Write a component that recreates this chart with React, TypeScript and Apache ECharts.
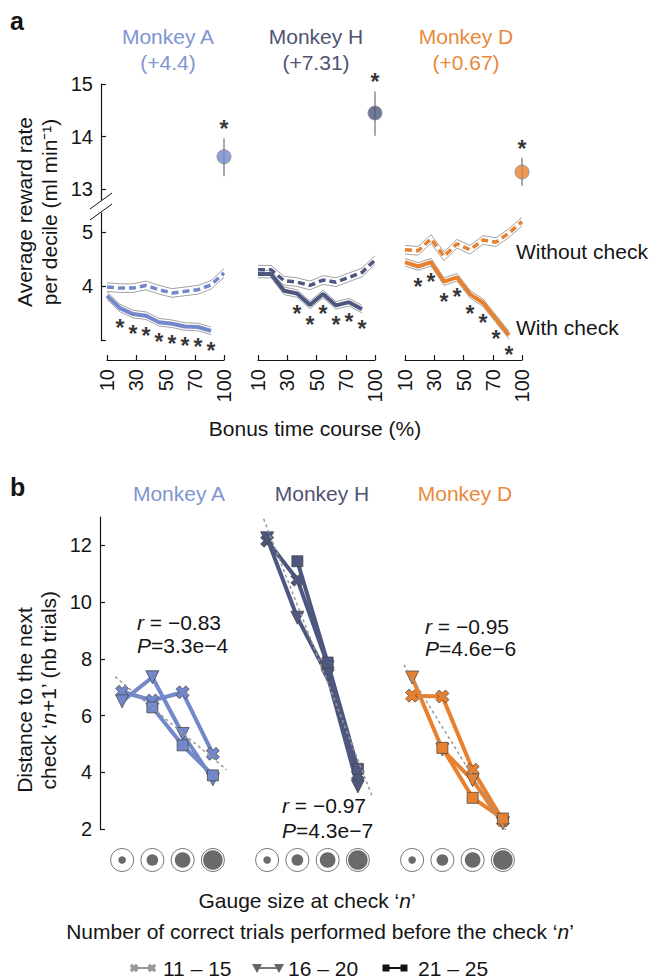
import React, { useEffect, useRef } from 'react';
import * as echarts from 'echarts';

// ---------------- data ----------------
const deciles = [10, 20, 30, 40, 50, 60, 70, 80, 90, 100];
const timeTickLabels = ['10', '30', '50', '70', '100'];
const monkeyNames = ['Monkey A', 'Monkey H', 'Monkey D'];
const bonusGain = ['(+4.4)', '(+7.31)', '(+0.67)'];

// Panel a: average reward rate per decile (ml/min)
const withoutCheckA = [3.98, 3.96, 3.96, 4.01, 3.93, 3.87, 3.9, 3.93, 4.02, 4.24];
const withCheckA = [3.82, 3.59, 3.48, 3.45, 3.33, 3.3, 3.25, 3.24, 3.17];
const withoutCheckH = [4.3, 4.3, 4.1, 4.07, 4.01, 4.11, 4.07, 4.16, 4.25, 4.48];
const withCheckH = [4.22, 4.22, 3.91, 3.86, 3.65, 3.85, 3.64, 3.7, 3.57];
const withoutCheckD = [4.67, 4.65, 4.87, 4.55, 4.78, 4.67, 4.85, 4.81, 4.98, 5.19];
const withCheckD = [4.44, 4.36, 4.44, 4.08, 4.16, 3.85, 3.69, 3.39, 3.09];
const semWithout = [0.08, 0.08, 0.08, 0.08, 0.08, 0.08, 0.08, 0.08, 0.08, 0.08];
const semWith = [0.07, 0.07, 0.07, 0.07, 0.07, 0.07, 0.07, 0.07, 0.07];
const sigDecilesA = [20, 30, 40, 50, 60, 70, 80, 90];
const sigDecilesH = [40, 50, 60, 70, 80, 90];
const sigDecilesD = [20, 30, 40, 50, 60, 70, 80, 90];
const bonusRate = [13.62, 14.45, 13.33];
const bonusLow = [13.25, 14.02, 13.07];
const bonusHigh = [13.97, 14.86, 13.6];
const upperTicks = [13, 14, 15];
const lowerTicks = [3, 4, 5];
const lowerLabels = [4, 5];

// Panel b: distance to next check vs gauge size (null = no data)
const gaugeSizes = [1, 2, 3, 4];
const trialBins = ['11 – 15', '16 – 20', '21 – 25'];
const distA11 = [6.84, 6.53, 6.82, 4.65];
const distA16 = [6.5, 7.35, 5.35, 3.75];
const distA21 = [null, 6.29, 4.95, 3.89];
const distH11 = [12.16, 10.79, 7.8, 3.9];
const distH16 = [12.25, 9.45, 7.4, 3.5];
const distH21 = [null, 11.44, 7.87, 4.12];
const distD11 = [6.7, 6.67, 4.09, 2.3];
const distD16 = [7.34, 4.8, 3.72, 2.2];
const distD21 = [null, 4.86, 3.1, 2.37];
const fitA = [[0.77, 7.37], [4.45, 4.09]];
const fitH = [[0.74, 13.33], [4.46, 3.19]];
const fitD = [[0.73, 7.79], [4.18, 1.82]];
const rValues = ['−0.83', '−0.97', '−0.95'];
const pValues = ['3.3e−4', '4.3e−7', '4.6e−6'];
const distTicks = [2, 4, 6, 8, 10, 12];

// ---------------- style / layout ----------------
const FONT = '"Liberation Sans", Arial, Helvetica, sans-serif';
const INK = '#151515';
const lineColors = ['#7288ca', '#4d577f', '#e8812f'];
const titleColors = ['#8095d1', '#505372', '#e9893b'];
const crossPath = 'path://M0,2.6L2.6,0L5,2.4L7.4,0L10,2.6L7.6,5L10,7.4L7.4,10L5,7.6L2.6,10L0,7.4L2.4,5Z';

const aLeft = [107, 258, 405];
const bLeft = [107, 252, 397];

function txt(x: number, y: number, text: string, opts: any = {}) {
  return {
    type: 'text',
    x,
    y,
    rotation: opts.rotation || 0,
    style: {
      text,
      fill: opts.color || INK,
      fontSize: opts.size || 21,
      fontFamily: FONT,
      fontWeight: opts.weight || 'normal',
      align: opts.align || 'center',
      verticalAlign: 'middle',
      rich: opts.rich,
    },
  };
}

const italicRich = (size: number) => ({
  i: { fontStyle: 'italic', fontSize: size, fontFamily: FONT, fill: INK },
  n: { fontSize: size, fontFamily: FONT, fill: INK },
});

function crossPoints(cx: number, cy: number, s: number) {
  const p = [[0, 2.6], [2.6, 0], [5, 2.4], [7.4, 0], [10, 2.6], [7.6, 5], [10, 7.4], [7.4, 10], [5, 7.6], [2.6, 10], [0, 7.4], [2.4, 5]];
  return p.map(([a, b]) => [cx + (a - 5) * s / 10, cy + (b - 5) * s / 10]);
}

function buildOption() {
  const grid: any[] = [];
  const xAxis: any[] = [];
  const yAxis: any[] = [];
  const series: any[] = [];

  const withoutAll = [withoutCheckA, withoutCheckH, withoutCheckD];
  const withAll = [withCheckA, withCheckH, withCheckD];
  const sigAll = [sigDecilesA, sigDecilesH, sigDecilesD];
  const distAll = [[distA11, distA16, distA21], [distH11, distH16, distH21], [distD11, distD16, distD21]];
  const fitAll = [fitA, fitH, fitD];

  const axisLineStyle = { color: INK, width: 1.2 };
  const labelStyle = { fontSize: 20, color: INK, fontFamily: FONT };
  const starLabel = { show: true, formatter: '*', position: 'inside', fontSize: 23, fontWeight: 'bold', color: '#000', fontFamily: FONT };

  for (let m = 0; m < 3; m++) grid.push({ left: aLeft[m], top: 84, width: 117, height: 116 });
  for (let m = 0; m < 3; m++) grid.push({ left: aLeft[m], top: 213, width: 117, height: 127 });
  for (let m = 0; m < 3; m++) grid.push({ left: bLeft[m], top: 517, width: 121, height: 312 });

  for (let g = 0; g < 6; g++) xAxis.push({ type: 'value', gridIndex: g, min: 10, max: 100, show: false });
  for (let g = 6; g < 9; g++) xAxis.push({ type: 'value', gridIndex: g, min: 0.5, max: 4.5, show: false });
  for (let m = 0; m < 3; m++) {
    xAxis.push({
      type: 'category',
      gridIndex: 3 + m,
      data: timeTickLabels,
      boundaryGap: false,
      position: 'bottom',
      offset: 20,
      axisLine: { show: true, lineStyle: axisLineStyle },
      axisTick: { show: true, inside: true, length: 5, lineStyle: axisLineStyle },
      axisLabel: { ...labelStyle, rotate: 90, margin: 9, interval: 0 },
      splitLine: { show: false },
    });
  }

  for (let m = 0; m < 3; m++) {
    yAxis.push(m === 0
      ? {
        type: 'value', gridIndex: 0, min: 12.8, max: 15, offset: 6,
        axisLine: { show: true, lineStyle: axisLineStyle },
        axisTick: { show: true, inside: true, length: 5, customValues: upperTicks, lineStyle: axisLineStyle },
        axisLabel: { ...labelStyle, margin: 8, customValues: upperTicks },
        splitLine: { show: false },
      }
      : { type: 'value', gridIndex: m, min: 12.8, max: 15, show: false });
  }
  for (let m = 0; m < 3; m++) {
    yAxis.push(m === 0
      ? {
        type: 'value', gridIndex: 3, min: 3, max: 5.35, offset: 6,
        axisLine: { show: true, lineStyle: axisLineStyle },
        axisTick: { show: true, inside: true, length: 5, customValues: lowerTicks, lineStyle: axisLineStyle },
        axisLabel: { ...labelStyle, margin: 8, customValues: lowerLabels },
        splitLine: { show: false },
      }
      : { type: 'value', gridIndex: 3 + m, min: 3, max: 5.35, show: false });
  }
  for (let m = 0; m < 3; m++) {
    yAxis.push(m === 0
      ? {
        type: 'value', gridIndex: 6, min: 2, max: 13, offset: 7,
        axisLine: { show: true, lineStyle: axisLineStyle },
        axisTick: { show: true, inside: true, length: 5, customValues: distTicks, lineStyle: axisLineStyle },
        axisLabel: { ...labelStyle, margin: 8, customValues: distTicks },
        splitLine: { show: false },
      }
      : { type: 'value', gridIndex: 6 + m, min: 2, max: 13, show: false });
  }

  for (let m = 0; m < 3; m++) {
    const color = lineColors[m];
    const wo = withoutAll[m];
    const wc = withAll[m];
    const li = 3 + m;
    const band = (vals: number[], sem: number[], sign: number) => ({
      type: 'line', xAxisIndex: li, yAxisIndex: li, symbol: 'none', z: 1, silent: true,
      lineStyle: { color: '#a3a3a3', width: 1 },
      data: vals.map((v, i) => [deciles[i], v + sign * sem[i]]),
    });
    series.push(band(wo, semWithout, 1), band(wo, semWithout, -1), band(wc, semWith, 1), band(wc, semWith, -1));
    series.push({
      type: 'line', xAxisIndex: li, yAxisIndex: li, symbol: 'none', z: 3,
      lineStyle: { color, width: 3.5, type: [7, 4] },
      data: wo.map((v, i) => [deciles[i], v]),
    });
    series.push({
      type: 'line', xAxisIndex: li, yAxisIndex: li, symbol: 'none', z: 3,
      lineStyle: { color, width: 4 },
      data: wc.map((v, i) => [deciles[i], v]),
    });
    series.push({
      type: 'scatter', xAxisIndex: li, yAxisIndex: li, symbol: 'circle', symbolSize: 1, z: 4,
      itemStyle: { color: 'rgba(0,0,0,0)' },
      label: { ...starLabel, offset: [0, 20] },
      data: sigAll[m].map((d) => [d, wc[deciles.indexOf(d)]]),
    });
    series.push({
      type: 'line', xAxisIndex: m, yAxisIndex: m, symbol: 'none', z: 2,
      lineStyle: { color: '#a8a8a8', width: 2 },
      data: [[100, bonusLow[m]], [100, bonusHigh[m]]],
    });
    series.push({
      type: 'scatter', xAxisIndex: m, yAxisIndex: m, symbol: 'circle', symbolSize: 14, z: 3,
      itemStyle: { color, borderColor: '#8a8a8a', borderWidth: 1 },
      data: [[100, bonusRate[m]]],
    });
    series.push({
      type: 'scatter', xAxisIndex: m, yAxisIndex: m, symbol: 'circle', symbolSize: 1, z: 4,
      itemStyle: { color: 'rgba(0,0,0,0)' },
      label: { ...starLabel, offset: [0, -9] },
      data: [[100, bonusHigh[m]]],
    });

    const bi = 6 + m;
    const symbols = [crossPath, 'triangle', 'rect'];
    const sizes = [13, 13, 11];
    distAll[m].forEach((vals, k) => {
      series.push({
        type: 'line', name: trialBins[k], xAxisIndex: bi, yAxisIndex: bi,
        symbol: symbols[k], symbolSize: sizes[k], symbolRotate: k === 1 ? 180 : 0, showAllSymbol: true, z: 3 + k,
        connectNulls: false,
        lineStyle: { color, width: 4 },
        itemStyle: { color, borderColor: '#4a4a4a', borderWidth: 0.8 },
        data: vals.map((v, i) => [gaugeSizes[i], v === null ? '-' : v]),
      });
    });
    series.push({
      type: 'line', xAxisIndex: bi, yAxisIndex: bi, symbol: 'none', z: 8,
      lineStyle: { color: '#9a9a9a', width: 1.5, type: [3, 3] },
      data: fitAll[m],
    });
  }

  return { animation: false, grid, xAxis, yAxis, series };
}

function buildGraphic(gaugeX: number[][]) {
  const els: any[] = [];
  els.push(txt(10, 21, 'a', { size: 25, weight: 'bold', align: 'left' }));
  els.push(txt(10, 487, 'b', { size: 25, weight: 'bold', align: 'left' }));

  const aTitleX = [168, 316, 466];
  const bTitleX = [179, 322, 465];
  for (let m = 0; m < 3; m++) {
    els.push(txt(aTitleX[m], 36, monkeyNames[m], { color: titleColors[m] }));
    els.push(txt(aTitleX[m], 62, bonusGain[m], { color: titleColors[m] }));
    els.push(txt(bTitleX[m], 493, monkeyNames[m], { color: titleColors[m] }));
  }
  els.push(txt(516, 251, 'Without check', { align: 'left' }));
  els.push(txt(516, 327, 'With check', { align: 'left' }));
  els.push(txt(315, 428, 'Bonus time course (%)'));
  els.push(txt(24, 212, 'Average reward rate', { rotation: Math.PI / 2 }));
  els.push(txt(49, 212, 'per decile (ml min⁻¹)', { rotation: Math.PI / 2 }));
  els.push(txt(24, 700, 'Distance to the next', { rotation: Math.PI / 2 }));
  els.push(txt(48, 690, 'check ‘{i|n}+1’ (nb trials)', { rotation: Math.PI / 2, rich: italicRich(21) }));

  els.push({ type: 'rect', shape: { x: 96, y: 201, width: 10, height: 11 }, style: { fill: '#fff' }, z: 50 });
  els.push({ type: 'line', shape: { x1: 90, y1: 209, x2: 112, y2: 193 }, style: { stroke: INK, lineWidth: 1 }, z: 51 });
  els.push({ type: 'line', shape: { x1: 90, y1: 220, x2: 112, y2: 204 }, style: { stroke: INK, lineWidth: 1 }, z: 51 });

  const annX = [137, 282, 425];
  const annY = [[622, 645], [805, 830], [626, 648]];
  for (let m = 0; m < 3; m++) {
    els.push(txt(annX[m], annY[m][0], `{i|r}{n| = ${rValues[m]}}`, { align: 'left', rich: italicRich(21) }));
    els.push(txt(annX[m], annY[m][1], `{i|P}{n|=${pValues[m]}}`, { align: 'left', rich: italicRich(21) }));
  }

  const innerR = [3.8, 5.8, 7.8, 9.8];
  gaugeX.forEach((row) => row.forEach((x, i) => {
    els.push({ type: 'circle', shape: { cx: x, cy: 860, r: 11.5 }, style: { fill: '#fff', stroke: '#777', lineWidth: 1 } });
    els.push({ type: 'circle', shape: { cx: x, cy: 860, r: innerR[i] }, style: { fill: '#6a6a6a' } });
  }));

  els.push(txt(307, 900, 'Gauge size at check ‘{i|n}’', { rich: italicRich(21) }));
  els.push(txt(320, 931, 'Number of correct trials performed before the check ‘{i|n}’', { rich: italicRich(21) }));

  const ly = 968;
  els.push({ type: 'line', shape: { x1: 134, y1: ly, x2: 152, y2: ly }, style: { stroke: '#999', lineWidth: 2 } });
  [134, 152].forEach((cx) => els.push({ type: 'polygon', shape: { points: crossPoints(cx, ly, 8) }, style: { fill: '#9a9a9a', stroke: '#888', lineWidth: 0.5 } }));
  els.push(txt(163, ly, trialBins[0], { align: 'left' }));
  els.push({ type: 'line', shape: { x1: 257, y1: ly, x2: 279, y2: ly }, style: { stroke: '#777', lineWidth: 2 } });
  [257, 279].forEach((cx) => els.push({ type: 'polygon', shape: { points: [[cx - 5, ly - 4], [cx + 5, ly - 4], [cx, ly + 5]] }, style: { fill: '#666' } }));
  els.push(txt(288, ly, trialBins[1], { align: 'left' }));
  els.push({ type: 'line', shape: { x1: 386, y1: ly, x2: 404, y2: ly }, style: { stroke: '#111', lineWidth: 2 } });
  [386, 404].forEach((cx) => els.push({ type: 'rect', shape: { x: cx - 3.5, y: ly - 3.5, width: 7, height: 7 }, style: { fill: '#111' } }));
  els.push(txt(418, ly, trialBins[2], { align: 'left' }));
  return els;
}

export default function App() {
  const ref = useRef<HTMLDivElement>(null);
  useEffect(() => {
    document.body.style.margin = '0';
    if (!ref.current) return;
    const chart = echarts.init(ref.current, null, { renderer: 'svg' });
    chart.setOption(buildOption());
    const gaugeX = [0, 1, 2].map((m) => gaugeSizes.map((g) => chart.convertToPixel({ xAxisIndex: 6 + m }, g) as number));
    chart.setOption({ graphic: buildGraphic(gaugeX) });
    return () => chart.dispose();
  }, []);
  return <div ref={ref} style={{ width: 651, height: 978 }} />;
}
